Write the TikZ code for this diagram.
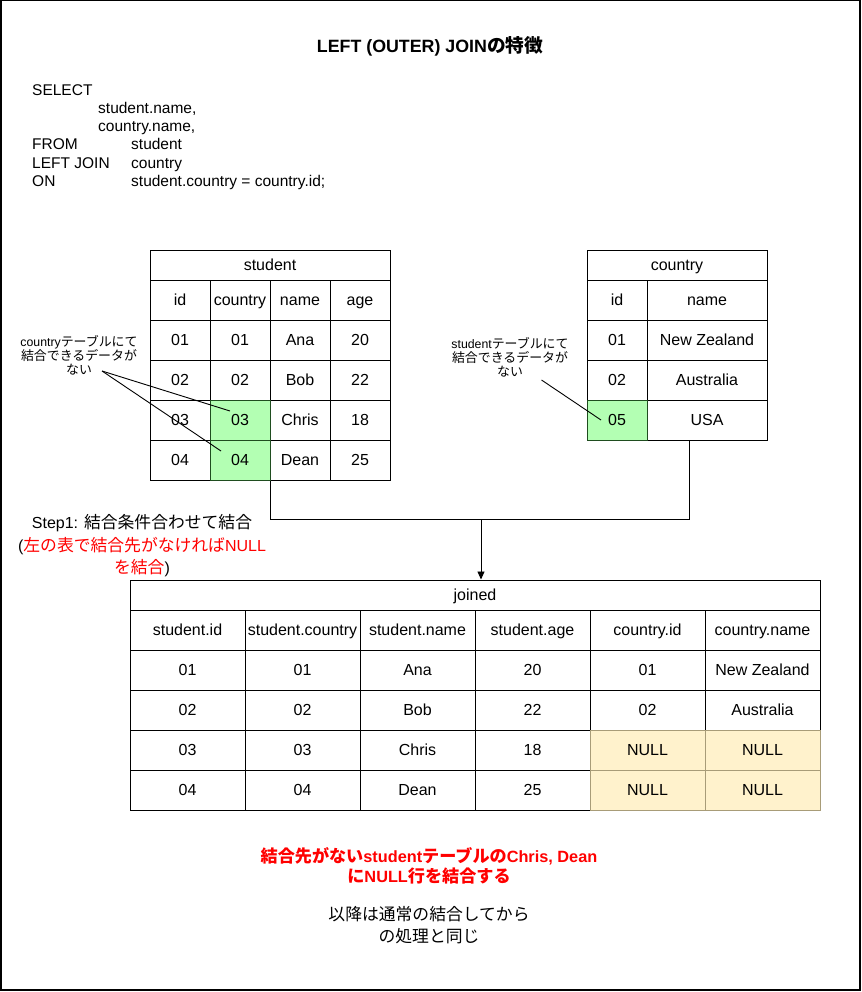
\documentclass[tikz,border=0pt]{standalone}
\usepackage{fontspec}
\setmainfont{Liberation Sans}
\newfontfamily\jp[Scale=1.05]{Noto Sans CJK JP}
\usetikzlibrary{arrows.meta,calc}
\newcommand\J[1]{{\jp #1}}
\definecolor{cellgreen}{HTML}{B3FFB3}
\definecolor{greenline}{HTML}{1F4D1F}
\definecolor{nullfill}{HTML}{FFF2CC}
\definecolor{nullline}{HTML}{A89C78}
\definecolor{notered}{HTML}{FF0000}
\tikzset{
  cell/.style={draw, line width=1pt, inner sep=0pt, minimum height=40pt,
    font=\fontsize{16}{19}\selectfont, text height=13pt, text depth=2.5pt},
  headcell/.style={cell, minimum height=30pt},
  w60/.style={minimum width=60pt},
  w115/.style={minimum width=115pt},
  w120/.style={minimum width=120pt},
  nomatch/.style={fill=cellgreen, draw=greenline},
  nullcell/.style={fill=nullfill, draw=nullline},
  sqltext/.style={anchor=base west, inner sep=0pt, font=\fontsize{15.5}{18}\selectfont},
  annot/.style={align=center, inner sep=0pt, font=\fontsize{12.3}{14}\selectfont},
  conn/.style={line width=0.9pt},
  arrowconn/.style={conn, -{Triangle[length=8pt,width=7pt]}},
}
\begin{document}
\begin{tikzpicture}[x=1pt, y=-1pt]
\useasboundingbox (0,0) rectangle (861,992);
\fill[white] (0,0) rectangle (861,992);
% outer frame
\draw[line width=1.5pt] (0.75,0.75) rectangle (860.2,990);

% title
\node[font=\bfseries\fontsize{17.8}{22}\selectfont] (ttl) at (430,46) {LEFT (OUTER) JOIN\J{の特徴}};

% SQL statement
\node[sqltext] (sql1) at (32,95.4) {SELECT};
\node[sqltext] (sql2) at (98,113.6) {student.name,};
\node[sqltext] (sql3) at (98,131.8) {country.name,};
\node[sqltext] (sql4) at (32,150) {FROM};
\node[sqltext] (sql4b) at (131,150) {student};
\node[sqltext] (sql5) at (32,168.2) {LEFT JOIN};
\node[sqltext] (sql5b) at (131,168.2) {country};
\node[sqltext] (sql6) at (32,186.4) {ON};
\node[sqltext] (sql6b) at (131,186.4) {student.country = country.id;};

% student table
\node[headcell, minimum width=240pt] (stu) at (270,265) {student};
\node[cell,w60] (s-h1) at (180,300) {id};
\node[cell,w60] (s-h2) at (240,300) {country};
\node[cell,w60] (s-h3) at (300,300) {name};
\node[cell,w60] (s-h4) at (360,300) {age};
\node[cell,w60] (s-r1-c1) at (180,340) {01};
\node[cell,w60] (s-r1-c2) at (240,340) {01};
\node[cell,w60] (s-r1-c3) at (300,340) {Ana};
\node[cell,w60] (s-r1-c4) at (360,340) {20};
\node[cell,w60] (s-r2-c1) at (180,380) {02};
\node[cell,w60] (s-r2-c2) at (240,380) {02};
\node[cell,w60] (s-r2-c3) at (300,380) {Bob};
\node[cell,w60] (s-r2-c4) at (360,380) {22};
\node[cell,w60] (s-r3-c1) at (180,420) {03};
\node[cell,w60] (s-r3-c3) at (300,420) {Chris};
\node[cell,w60] (s-r3-c4) at (360,420) {18};
\node[cell,w60] (s-r4-c1) at (180,460) {04};
\node[cell,w60] (s-r4-c3) at (300,460) {Dean};
\node[cell,w60] (s-r4-c4) at (360,460) {25};
\node[cell,w60,nomatch] (s-r3-c2) at (240,420) {03};
\node[cell,w60,nomatch] (s-r4-c2) at (240,460) {04};

% country table
\node[headcell, minimum width=180pt] (cty) at (677,265) {country};
\node[cell,w60] (c-h1) at (617,300) {id};
\node[cell,w120] (c-h2) at (707,300) {name};
\node[cell,w60] (c-r1-c1) at (617,340) {01};
\node[cell,w120] (c-r1-c2) at (707,340) {New Zealand};
\node[cell,w60] (c-r2-c1) at (617,380) {02};
\node[cell,w120] (c-r2-c2) at (707,380) {Australia};
\node[cell,w120] (c-r3-c2) at (707,420) {USA};
\node[cell,w60,nomatch] (c-r3-c1) at (617,420) {05};

% notes on rows without a partner
\node[annot] (n1) at (79,355) {country\J{テーブルにて}\\\J{結合できるデータが}\\\J{ない}};
\coordinate (n1o) at (102,371);
\draw[conn] (n1o) -- ($(s-r3-c2.center)+(-10,-9)$);
\draw[conn] (n1o) -- ($(s-r4-c2.center)+(-19,-9)$);
\node[annot] (n2) at (510,357) {student\J{テーブルにて}\\\J{結合できるデータが}\\\J{ない}};
\coordinate (n2o) at (541.5,380);
\draw[conn] (n2o) -- ($(c-r3-c1.center)+(-16,0)$);

% joined table
\node[headcell, minimum width=690pt] (jnd) at (475,595) {joined};
\node[cell,w115] (j-h1) at (187.5,630) {student.id};
\node[cell,w115] (j-h2) at (302.5,630) {student.country};
\node[cell,w115] (j-h3) at (417.5,630) {student.name};
\node[cell,w115] (j-h4) at (532.5,630) {student.age};
\node[cell,w115] (j-h5) at (647.5,630) {country.id};
\node[cell,w115] (j-h6) at (762.5,630) {country.name};
\node[cell,w115] (j-r1-c1) at (187.5,670) {01};
\node[cell,w115] (j-r1-c2) at (302.5,670) {01};
\node[cell,w115] (j-r1-c3) at (417.5,670) {Ana};
\node[cell,w115] (j-r1-c4) at (532.5,670) {20};
\node[cell,w115] (j-r1-c5) at (647.5,670) {01};
\node[cell,w115] (j-r1-c6) at (762.5,670) {New Zealand};
\node[cell,w115] (j-r2-c1) at (187.5,710) {02};
\node[cell,w115] (j-r2-c2) at (302.5,710) {02};
\node[cell,w115] (j-r2-c3) at (417.5,710) {Bob};
\node[cell,w115] (j-r2-c4) at (532.5,710) {22};
\node[cell,w115] (j-r2-c5) at (647.5,710) {02};
\node[cell,w115] (j-r2-c6) at (762.5,710) {Australia};
\node[cell,w115] (j-r3-c1) at (187.5,750) {03};
\node[cell,w115] (j-r3-c2) at (302.5,750) {03};
\node[cell,w115] (j-r3-c3) at (417.5,750) {Chris};
\node[cell,w115] (j-r3-c4) at (532.5,750) {18};
\node[cell,w115] (j-r4-c1) at (187.5,790) {04};
\node[cell,w115] (j-r4-c2) at (302.5,790) {04};
\node[cell,w115] (j-r4-c3) at (417.5,790) {Dean};
\node[cell,w115] (j-r4-c4) at (532.5,790) {25};
\node[cell,w115,nullcell] (j-r3-c5) at (647.5,750) {NULL};
\node[cell,w115,nullcell] (j-r3-c6) at (762.5,750) {NULL};
\node[cell,w115,nullcell] (j-r4-c5) at (647.5,790) {NULL};
\node[cell,w115,nullcell] (j-r4-c6) at (762.5,790) {NULL};

% join connectors
\coordinate (cbot) at (689,440);
\coordinate (junL) at (270.5,519);
\coordinate (junR) at (689,519);
\coordinate (jmid) at (481,519);
\draw[conn] (s-r4-c2.south east) -- (junL) -- (junR) -- (cbot);
\draw[arrowconn] (jmid) -- (jmid |- jnd.north);

% step label
\node[align=center, inner sep=0pt, font=\fontsize{16}{22.5}\selectfont] (step) at (142,546)
  {Step1: \J{結合条件合わせて結合}\\(\textcolor{notered}{\J{左の表で結合先がなければ}NULL}\\\textcolor{notered}{\J{を結合}})};

% closing notes
\node[align=center, inner sep=0pt, text=notered, font=\bfseries\fontsize{16.3}{20.5}\selectfont] (res) at (429,866)
  {\J{結合先がない}student\J{テーブルの}Chris, Dean\\\J{に}NULL\J{行を結合する}};
\node[align=center, inner sep=0pt, font=\fontsize{16}{22}\selectfont] (rest) at (429,925)
  {\J{以降は通常の結合してから}\\\J{の処理と同じ}};
\end{tikzpicture}
\end{document}
